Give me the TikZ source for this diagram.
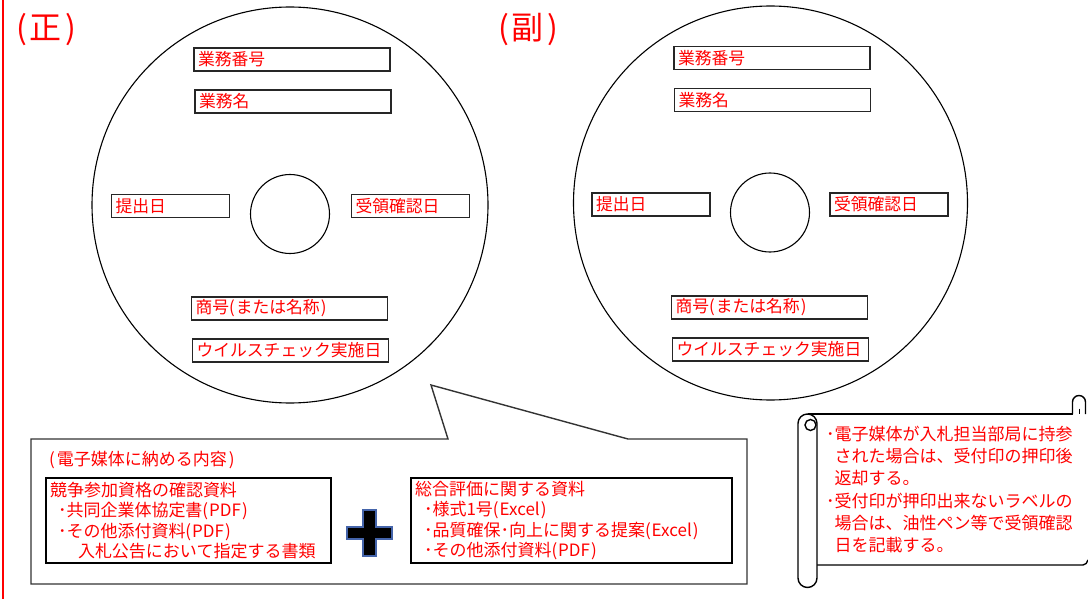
\documentclass[tikz,border=0pt]{standalone}
\usepackage{fontspec}
\newfontfamily\jpfont{Noto Sans CJK JP}

\begin{document}
\begin{tikzpicture}[x=1pt, y=-1pt,
    % Styles for each element type
    heading/.style={anchor=west, inner sep=0pt, text=red, font=\jpfont\fontsize{32}{36}\selectfont},
    disc/.style={draw=black, line width=1.1pt},
    field/.style={rectangle, draw=black!85, line width=1.5pt, minimum height=23pt, inner xsep=4pt, inner ysep=0pt, align=left, text=red, font=\jpfont\fontsize{16.8}{18}\selectfont},
    widefield/.style={field, text width=188pt},
    shortfield/.style={field, text width=110pt},
    callout/.style={draw=black!80, line width=1.4pt, fill=white},
    notetext/.style={anchor=west, inner sep=0pt, text=red, font=\jpfont\fontsize{17}{20}\selectfont},
    itembox/.style={rectangle, draw=black, line width=2.4pt, minimum height=85pt, inner xsep=4pt, inner ysep=0pt, align=left, text=red, font=\jpfont\fontsize{17}{20.6}\selectfont},
    plussign/.style={fill=black, draw={rgb,255:red,68;green,100;blue,170}, line width=1.2pt},
    scrollpaper/.style={draw=black, line width=1.4pt, fill=white},
    scrolltext/.style={anchor=west, inner sep=0pt, align=left, text=red, font=\jpfont\fontsize{17}{22.2}\selectfont}
]
\useasboundingbox (0,0) rectangle (1088,599);

% Red margin line
\draw[red, line width=2pt] (3,0) -- (3,599);

% Headings
\node[heading] (sei) at (16,30) {(\hspace{3pt}正\hspace{3pt})};
\node[heading] (fuku) at (498,30) {(\hspace{3pt}副\hspace{3pt})};

% Left disc
\draw[disc] (290,205) circle (198);
\draw[disc] (290,214) circle (39.5);
\node[widefield]  (lno)    at (292,59.5)  {業務番号};
\node[widefield]  (lname)  at (293,101.5) {業務名};
\node[shortfield] (lsub)   at (170.5,206) {提出日};
\node[shortfield] (lrecv)  at (410.5,206) {受領確認日};
\node[widefield]  (lfirm)  at (289.5,308.5) {商号(\hspace{1pt}または名称\hspace{1pt})};
\node[widefield]  (lvirus) at (290.5,350.5) {ウイルスチェック実施日};

% Right disc
\draw[disc] (770.5,203) circle (197);
\draw[disc] (770,212.5) circle (39.5);
\node[widefield]  (rno)    at (772,58)     {業務番号};
\node[widefield]  (rname)  at (772.5,100)  {業務名};
\node[shortfield] (rsub)   at (651,204.5)  {提出日};
\node[shortfield] (rrecv)  at (889,204.5)  {受領確認日};
\node[widefield]  (rfirm)  at (769.5,307.5) {商号(\hspace{1pt}または名称\hspace{1pt})};
\node[widefield]  (rvirus) at (770.5,349.5) {ウイルスチェック実施日};

% Callout with the contents of the disc
\draw[callout] (31,439) -- (448,439) -- (431,385) -- (628,439) -- (747,439) -- (747,584) -- (31,584) -- cycle;
\node[notetext] (contents) at (49,460) {(\hspace{2pt}電子媒体に納める内容\hspace{2pt})};

\node[itembox, text width=277pt] (qualify) at (188.5,520.5)
    {競争参加資格の確認資料\\
     \hspace*{8pt}･共同企業体協定書(\hspace{1pt}PDF\hspace{1pt})\\
     \hspace*{8pt}･その他添付資料(\hspace{1pt}PDF\hspace{1pt})\\
     \hspace*{28pt}入札公告において指定する書類};
\node[itembox, text width=313pt] (evaluate) at (571.5,520.5)
    {総合評価に関する資料\\
     \hspace*{9pt}･様式1号(\hspace{1pt}Excel\hspace{1pt})\\
     \hspace*{9pt}･品質確保･向上に関する提案(\hspace{1pt}Excel\hspace{1pt})\\
     \hspace*{9pt}･その他添付資料(\hspace{1pt}PDF\hspace{1pt})};

% Plus between the two boxes
\draw[plussign] (363,510) -- (376,510) -- (376,527) -- (392,527) -- (392,539) -- (376,539)
    -- (376,556) -- (363,556) -- (363,539) -- (347,539) -- (347,527) -- (363,527) -- cycle;

% Scroll with the handling notes
\fill[white] (808,414) rectangle (1088,565);
\draw[scrollpaper] (807.5,414) -- (1072.5,414);
\draw[scrollpaper] (817,565) -- (1083,565) to[out=0, in=-110] (1088,560);
\draw[scrollpaper] (1072.5,414) -- (1072.5,402) arc[start angle=180, end angle=360, radius=6.5] -- (1085.5,414);
\draw[scrollpaper, line width=1pt] (1079,408.5) -- (1079,414);
\draw[scrollpaper, rounded corners=9.5pt] (798,414) rectangle (817,587.5);
\draw[scrollpaper] (810.5,425) circle (5.5);

\node[scrolltext] (notice) at (826,489.5)
    {･電子媒体が入札担当部局に持参\\
     \phantom{･}された場合は、受付印の押印後\\
     \phantom{･}返却する。\\
     ･受付印が押印出来ないラベルの\\
     \phantom{･}場合は、油性ペン等で受領確認\\
     \phantom{･}日を記載する。};

\end{tikzpicture}
\end{document}
